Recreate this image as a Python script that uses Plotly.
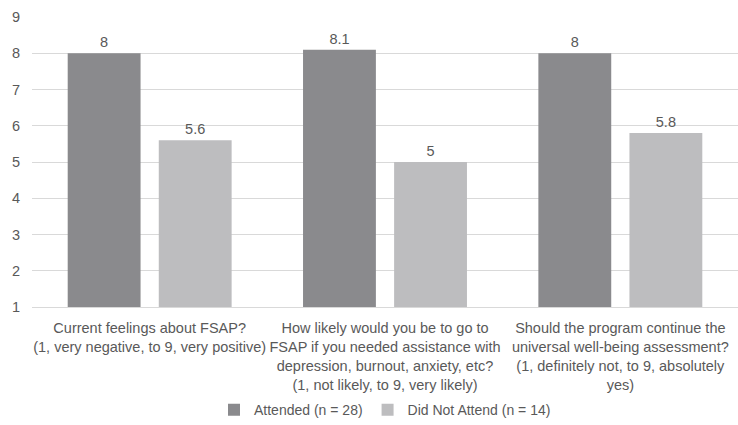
import plotly.graph_objects as go

categories = [
    "Current feelings about FSAP?<br>(1, very negative, to 9, very positive)",
    "How likely would you be to go to<br>FSAP if you needed assistance with<br>depression, burnout, anxiety, etc?<br>(1, not likely, to 9, very likely)",
    "Should the program continue the<br>universal well-being assessment?<br>(1, definitely not, to 9, absolutely<br>yes)",
]
attended = [8, 8.1, 8]
not_attended = [5.6, 5, 5.8]
series_names = ["Attended (n = 28)", "Did Not Attend (n = 14)"]
tick_vals = [1, 2, 3, 4, 5, 6, 7, 8, 9]

font_family = "Liberation Sans, Arial, sans-serif"
text_color = "#595959"

fig = go.Figure()
fig.add_trace(go.Bar(
    x=categories, y=attended, name=series_names[0],
    marker=dict(color="#8a8a8d", line=dict(width=0)),
    text=[str(v) for v in attended], textposition="outside",
    textfont=dict(size=14.5, color=text_color, family=font_family),
    cliponaxis=False,
))
fig.add_trace(go.Bar(
    x=categories, y=not_attended, name=series_names[1],
    marker=dict(color="#bdbdbf", line=dict(width=0)),
    text=[str(v) for v in not_attended], textposition="outside",
    textfont=dict(size=14.5, color=text_color, family=font_family),
    cliponaxis=False,
))

fig.update_layout(
    width=738, height=425,
    margin=dict(l=32, r=0, t=17, b=118, autoexpand=False),
    barmode="group", bargap=0.226, bargroupgap=0.2,
    plot_bgcolor="white", paper_bgcolor="white",
    font=dict(family=font_family, size=14, color=text_color),
    showlegend=True,
    legend=dict(orientation="h", x=0.5, xanchor="center", yref="container",
                y=0.035, yanchor="middle",
                font=dict(size=14, color=text_color),
                entrywidth=0, traceorder="normal"),
    yaxis=dict(range=[1, 9], tickvals=tick_vals, showgrid=True,
               gridcolor="#d9d9d9", gridwidth=1, zeroline=False,
               ticks="", tickfont=dict(size=14.5, color=text_color), ticklabelstandoff=11),
    xaxis=dict(showline=True, linecolor="#d9d9d9", linewidth=1, ticks="",
               tickfont=dict(size=14.5, color=text_color), tickangle=0,
               ticklabelstandoff=8),
)

fig.write_html("out.html")
